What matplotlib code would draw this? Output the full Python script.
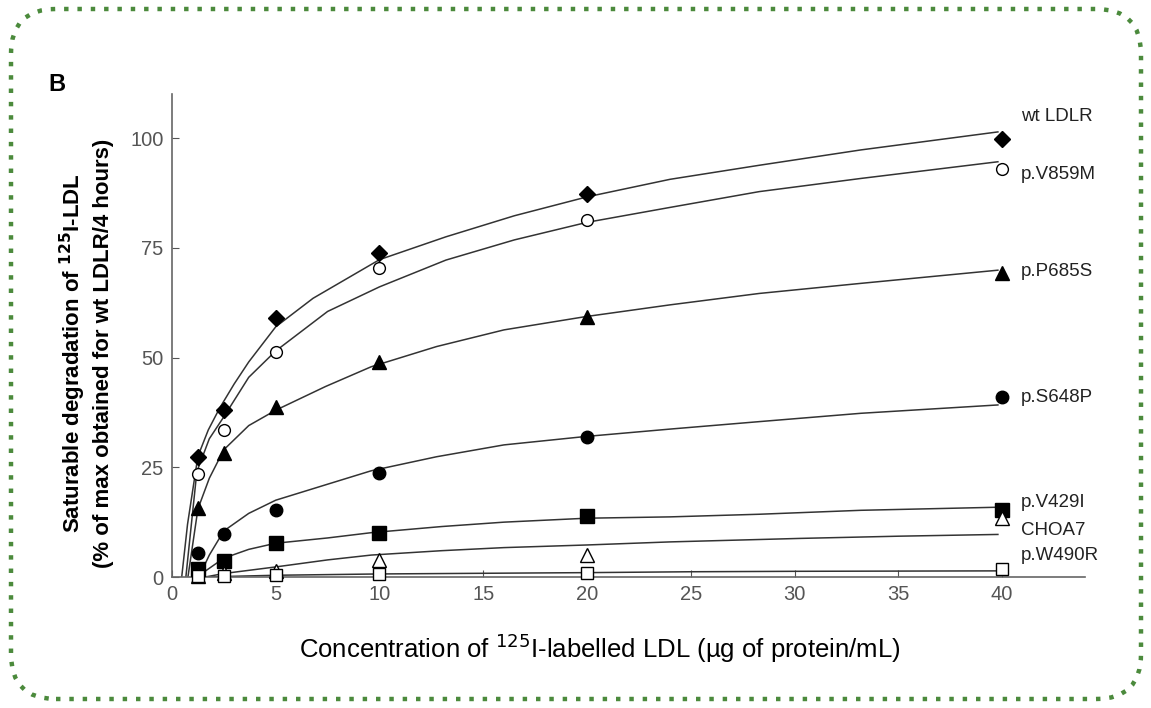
import matplotlib
matplotlib.use("Agg")
import matplotlib.pyplot as plt
from matplotlib.patches import FancyBboxPatch

plt.rcParams['font.family'] = ['Liberation Sans', 'DejaVu Sans']

# measured points (LDL concentration, % of wt max)
conc = [1.25, 2.5, 5, 10, 20, 40]
names = ["wt LDLR", "p.V859M", "p.P685S", "p.S648P", "p.V429I", "CHOA7", "p.W490R"]
wt_ldlr = [27.4, 38.0, 58.9, 73.9, 87.2, 99.7]
v859m = [23.5, 33.6, 51.3, 70.3, 81.3, 92.9]
p685s = [15.8, 28.2, 38.8, 49.0, 59.2, 69.3]
s648p = [5.5, 9.8, 15.3, 23.8, 32.0, 40.9]
v429i = [1.8, 3.7, 7.7, 10.0, 13.9, 15.3]
choa7 = [0.3, 1.0, 1.4, 3.9, 5.0, 13.4]
w490r = [0.3, 0.3, 0.4, 0.8, 1.0, 1.8]

# fitted curves
wt_fit_x = [0.47, 0.75, 1.25, 1.75, 2.3, 3, 3.7, 5, 6.8, 10, 13.2, 16.5, 20, 24, 28.3, 33.2, 39.8]
wt_fit_y = [0, 12, 27.5, 33.5, 38.5, 44, 49, 57, 63.5, 72.3, 77.5, 82.3, 86.6, 90.6, 93.8, 97.3, 101.4]
v859m_fit_x = [0.67, 1.2, 1.8, 2.5, 3.7, 5, 7.5, 10, 13.2, 16.5, 20, 24, 28.3, 33.2, 39.8]
v859m_fit_y = [0, 24, 31.5, 36.5, 45.5, 51.5, 60.5, 66.1, 72.2, 76.8, 80.8, 84.2, 87.8, 90.8, 94.6]
p685s_fit_x = [0.77, 1.25, 1.8, 2.5, 3.7, 5, 7.4, 9.6, 12.75, 16, 19.9, 24, 28.3, 33.2, 39.8]
p685s_fit_y = [0, 15.5, 22.5, 29, 34.5, 38, 43.4, 47.9, 52.5, 56.3, 59.3, 62, 64.6, 66.9, 69.9]
s648p_fit_x = [1.3, 1.8, 2.5, 3.7, 5, 7.4, 9.6, 12.75, 16, 19.9, 24, 28.3, 33.2, 39.8]
s648p_fit_y = [0, 5, 10.5, 14.5, 17.5, 21, 24.2, 27.4, 30.1, 32, 33.7, 35.4, 37.3, 39.2]
v429i_fit_x = [1.2, 1.5, 2.5, 3.7, 5, 7.5, 9.6, 13, 16, 20, 24, 28.3, 33.2, 39.8]
v429i_fit_y = [0, 1, 4.3, 6.3, 7.7, 8.9, 10.1, 11.5, 12.5, 13.4, 13.7, 14.3, 15.2, 15.9]
choa7_fit_x = [1.6, 2.5, 5, 7.5, 9.6, 13, 16, 20, 24, 30.3, 35, 39.8]
choa7_fit_y = [0, 0.8, 2.3, 3.9, 5.0, 6, 6.7, 7.3, 8, 8.8, 9.3, 9.7]
w490r_fit_x = [1.5, 5, 10, 20, 25, 30, 39.8]
w490r_fit_y = [0, 0.4, 0.7, 1.0, 1.2, 1.3, 1.4]

series = [
    (wt_ldlr, wt_fit_x, wt_fit_y, dict(marker='D', ms=8, mfc='black', mec='black')),
    (v859m, v859m_fit_x, v859m_fit_y, dict(marker='o', ms=8.5, mfc='white', mec='black', mew=1)),
    (p685s, p685s_fit_x, p685s_fit_y, dict(marker='^', ms=10, mfc='black', mec='black')),
    (s648p, s648p_fit_x, s648p_fit_y, dict(marker='o', ms=9, mfc='black', mec='black')),
    (v429i, v429i_fit_x, v429i_fit_y, dict(marker='s', ms=10, mfc='black', mec='black')),
    (choa7, choa7_fit_x, choa7_fit_y, dict(marker='^', ms=10, mfc='white', mec='black', mew=1)),
    (w490r, w490r_fit_x, w490r_fit_y, dict(marker='s', ms=9, mfc='white', mec='black', mew=1)),
]
label_y = [104.8, 91.6, 69.5, 40.8, 16.9, 10.7, 4.8]

fig = plt.figure(figsize=(11.51, 7.08), dpi=100)
ax = fig.add_axes([0.1494, 0.185, 0.7933, 0.682])

for (vals, fx, fy, style), name, ly in zip(series, names, label_y):
    ax.plot(fx, fy, color='#333333', lw=1.1, zorder=2)
    ax.plot(conc, vals, ls='none', clip_on=False, zorder=3, **style)
    ax.text(40.9, ly, name, fontsize=13.5, color='#222222', va='center', ha='left')

ax.set_xlim(0, 44)
ax.set_ylim(0, 110)
ax.set_xticks(range(0, 41, 5))
ax.set_yticks([0, 25, 50, 75, 100])
for s in ['top', 'right']:
    ax.spines[s].set_visible(False)
for s in ['left', 'bottom']:
    ax.spines[s].set_color('#666666')
    ax.spines[s].set_linewidth(1.2)
ax.tick_params(direction='in', length=5, color='#555555', labelcolor='#555555',
               labelsize=14.5, pad=6)

ax.set_xlabel("Concentration of $^{125}$I-labelled LDL (\u00b5g of protein/mL)",
              fontsize=18.5)
ax.xaxis.set_label_coords(0.469, -0.112)
fig.text(0.063, 0.501, "Saturable degradation of $\\mathbf{^{125}}$I-LDL",
         rotation=90, fontsize=16, fontweight='bold', ha='center', va='center')
fig.text(0.090, 0.501, "(% of max obtained for wt LDLR/4 hours)",
         rotation=90, fontsize=16, fontweight='bold', ha='center', va='center')
fig.text(0.042, 0.88, "B", fontsize=17, fontweight='bold', ha='left', va='center')

border = FancyBboxPatch((0.11, 0.09), 11.3, 6.9,
                        boxstyle="round,pad=0,rounding_size=0.45",
                        transform=fig.dpi_scale_trans, fill=False,
                        edgecolor='#4b8a3c', lw=3.2, linestyle=(0, (1, 2)))
fig.patches.append(border)

fig.savefig("out.png", dpi=100)
